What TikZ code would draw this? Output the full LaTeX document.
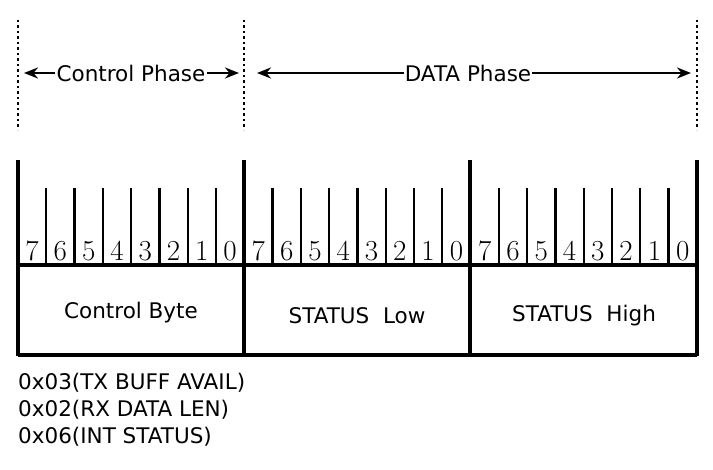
\documentclass[tikz,border=0pt]{standalone}
\usepackage{fontspec}
\setsansfont{DejaVu Sans}
\usetikzlibrary{arrows.meta}
\begin{document}
\begin{tikzpicture}[x=1pt,y=-1pt,
  thick line/.style={line width=3.5pt},
  tick/.style={line width=2.3pt},
  dotsep/.style={line width=2.5pt,dash pattern=on 2.5pt off 3pt},
  lbl/.style={font=\sffamily\fontsize{21.5}{24}\selectfont,inner sep=1pt},
  bit/.style={font=\fontsize{29}{29}\selectfont,anchor=base,inner sep=0pt},
  arr/.style={line width=2.3pt,-{Stealth[length=14pt,width=11pt]}}]
\useasboundingbox (0,0) rectangle (713,470);
% dotted guides
\foreach \x/\n in {18/a,244/b,697/c}{
  \coordinate (t\n) at (\x,20); \coordinate (u\n) at (\x,130);
  \draw[dotsep] (t\n) -- (u\n);}
% phase labels
\node[lbl] (cp) at (131,73) {Control Phase};
\node[lbl] (dp) at (468,73) {DATA Phase};
\coordinate (cpl) at (24,73); \coordinate (cpr) at (239,73);
\coordinate (dpl) at (257,73); \coordinate (dpr) at (691,73);
\draw[arr] (cp.west) -- (cpl);
\draw[arr] (cp.east) -- (cpr);
\draw[arr] (dp.west) -- (dpl);
\draw[arr] (dp.east) -- (dpr);
% frame
\foreach \x/\n in {18/a,244/b,470/c,697/d}{
  \coordinate (f\n) at (\x,160); \coordinate (g\n) at (\x,356);
  \draw[thick line] (f\n) -- (g\n);}
\coordinate (h1) at (18,265); \coordinate (h2) at (697,265);
\coordinate (h3) at (18,355); \coordinate (h4) at (697,355);
\draw[thick line] (h1) -- (h2);
\draw[thick line] (h3) -- (h4);
% bits
\foreach \b in {0,1,2}{
  \foreach \i in {0,...,7}{
    \pgfmathsetmacro{\xl}{18+226.3*\b+28.29*\i}
    \pgfmathtruncatemacro{\d}{7-\i}
    \node[bit] (n\b\i) at (\xl+14.1,261) {\d};
    \ifnum\i>0 \draw[tick] (\xl,188) -- (\xl,265);\fi
  }}
\node[lbl] (cb) at (131,313) {Control Byte};
\node[lbl] (sl) at (357,316) {STATUS\ \ Low};
\node[lbl] (sh) at (584,316) {STATUS\ \ High};
\node[lbl,anchor=west] (l1) at (17,383) {0x03(TX BUFF AVAIL)};
\node[lbl,anchor=west] (l2) at (17,410) {0x02(RX DATA LEN)};
\node[lbl,anchor=west] (l3) at (17,437) {0x06(INT STATUS)};
\end{tikzpicture}
\end{document}
